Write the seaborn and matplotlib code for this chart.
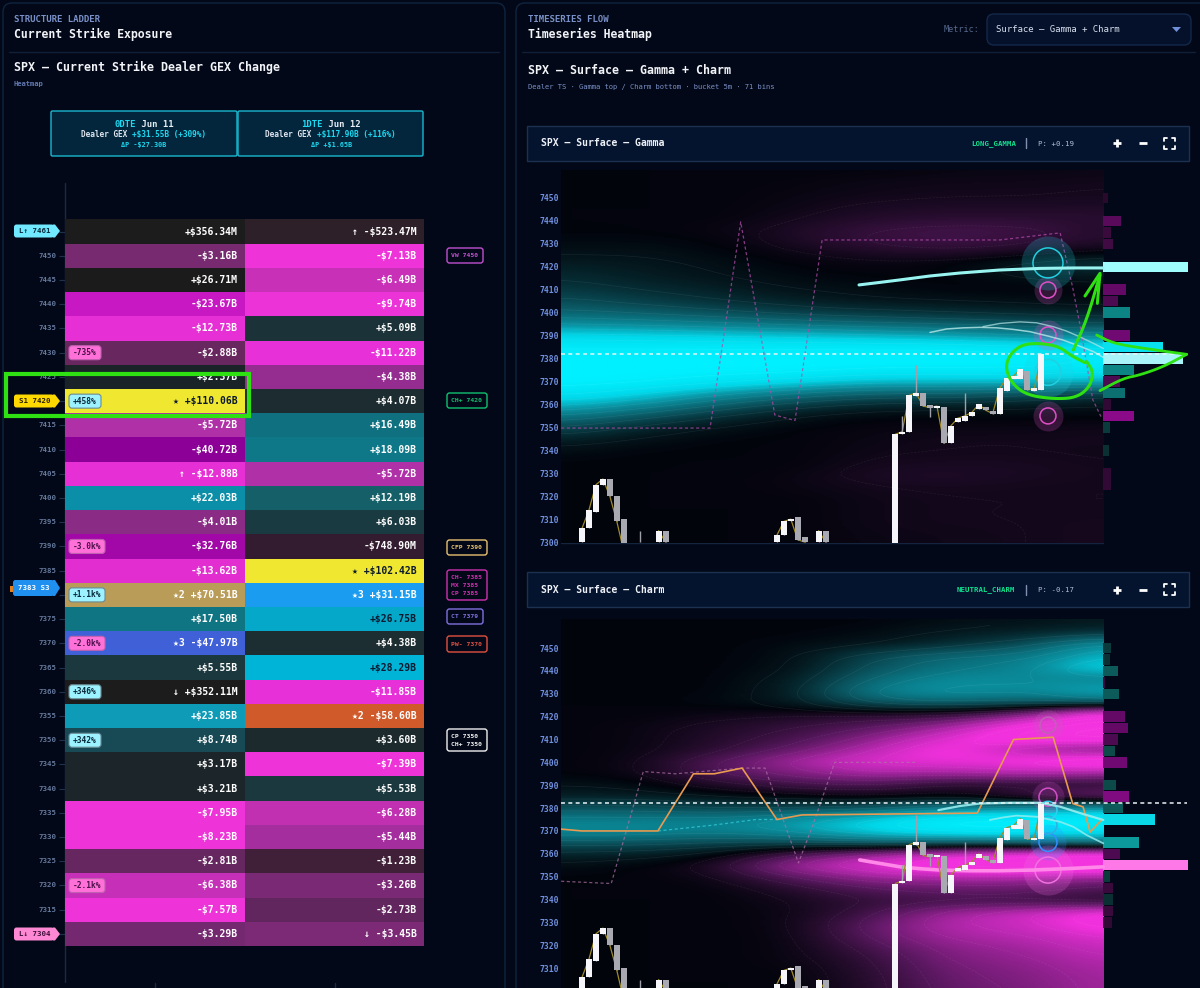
import numpy as np
import matplotlib
matplotlib.use("Agg")
import matplotlib.pyplot as plt
import seaborn as sns
from matplotlib.colors import ListedColormap, BoundaryNorm, LinearSegmentedColormap, Normalize
from matplotlib.patches import FancyBboxPatch, Polygon, Rectangle

# ---------- ladder data ($B) ----------
STRIKES = [7455, 7450, 7445, 7440, 7435, 7430, 7425, 7420, 7415, 7410, 7405, 7400, 7395, 7390, 7385,
           7380, 7375, 7370, 7365, 7360, 7355, 7350, 7345, 7340, 7335, 7330, 7325, 7320, 7315, 7310]
GEX_0DTE = [0.35634, -3.16, 0.02671, -23.67, -12.73, -2.88, 2.37, 110.06, -5.72, -40.72, -12.88, 22.03, -4.01, -32.76, -13.62,
            70.51, 17.50, -47.97, 5.55, 0.35211, 23.85, 8.74, 3.17, 3.21, -7.95, -8.23, -2.81, -6.38, -7.57, -3.29]
GEX_1DTE = [-0.52347, -7.13, -6.49, -9.74, 5.09, -11.22, -4.38, 4.07, 16.49, 18.09, -5.72, 12.19, 6.03, -0.7489, 102.42,
            31.15, 26.75, 4.38, 28.29, -11.85, -58.60, 3.60, -7.39, 5.53, -6.28, -5.44, -1.23, -3.26, -2.73, -3.45]
LABEL_0DTE = ["+$356.34M", "-$3.16B", "+$26.71M", "-$23.67B", "-$12.73B", "-$2.88B", "+$2.37B", "★ +$110.06B", "-$5.72B", "-$40.72B",
              "↑ -$12.88B", "+$22.03B", "-$4.01B", "-$32.76B", "-$13.62B", "★2 +$70.51B", "+$17.50B", "★3 -$47.97B", "+$5.55B",
              "↓ +$352.11M", "+$23.85B", "+$8.74B", "+$3.17B", "+$3.21B", "-$7.95B", "-$8.23B", "-$2.81B", "-$6.38B", "-$7.57B", "-$3.29B"]
LABEL_1DTE = ["↑ -$523.47M", "-$7.13B", "-$6.49B", "-$9.74B", "+$5.09B", "-$11.22B", "-$4.38B", "+$4.07B", "+$16.49B", "+$18.09B",
              "-$5.72B", "+$12.19B", "+$6.03B", "-$748.90M", "★ +$102.42B", "★3 +$31.15B", "+$26.75B", "+$4.38B", "+$28.29B",
              "-$11.85B", "★2 -$58.60B", "+$3.60B", "-$7.39B", "+$5.53B", "-$6.28B", "-$5.44B", "-$1.23B", "-$3.26B", "-$2.73B", "↓ -$3.45B"]
DARK_TEXT = [110.06, 102.42, 26.75, 28.29]
GEX_PALETTE = {
    -58.60: "#d05a2a", -47.97: "#4060d8", -40.72: "#8c0098", -32.76: "#a208a8", -23.67: "#c818c4", -13.62: "#e22ed0",
    -12.88: "#e62fd5", -12.73: "#e62fd5", -11.85: "#e830d8", -11.22: "#e830d8", -9.74: "#ec33d8", -8.23: "#ee33d8",
    -7.95: "#ee33d8", -7.57: "#ee33d8", -7.39: "#ee33d8", -7.13: "#ee33d8", -6.49: "#c830b8", -6.38: "#c630b8",
    -6.28: "#c030b0", -5.72: "#b030a8", -5.44: "#a52e9e", -4.38: "#952d90", -4.01: "#8a2c85", -3.45: "#7c2a76",
    -3.29: "#742870", -3.26: "#7a2a74", -3.16: "#772a70", -2.88: "#68275f", -2.81: "#66265f", -2.73: "#62265e",
    -1.23: "#3f2038", -0.7489: "#341c30", -0.52347: "#2e2028", 0.02671: "#1b1b1b", 0.35211: "#1c1c1c", 0.35634: "#1c1c1c",
    2.37: "#1a2428", 3.17: "#1c262a", 3.21: "#1c262a", 3.60: "#1c2a2e", 4.07: "#1c2c30", 4.38: "#1c2e32", 5.09: "#1b3238",
    5.53: "#1b383e", 5.55: "#1b383e", 6.03: "#1a3a42", 8.74: "#184a55", 12.19: "#156068", 16.49: "#0f7080", 17.50: "#0f7583",
    18.09: "#0f7888", 22.03: "#0b8fa8", 23.85: "#0d9bb8", 26.75: "#05a8c8", 28.29: "#00b4d8", 31.15: "#1a9cf0",
    70.51: "#b89c58", 102.42: "#f0e830", 110.06: "#f0e830"}
BADGES = [(7430, "-735%"), (7420, "+458%"), (7390, "-3.0k%"), (7380, "+1.1k%"), (7370, "-2.0k%"),
          (7360, "+346%"), (7350, "+342%"), (7320, "-2.1k%")]

# ---------- candles (bin index, open, close, wick low, wick high) ----------
C_BIN = [0, 1, 2, 3, 4, 5, 6, 11, 12, 28, 29, 30, 31, 32, 34, 35, 45, 46, 47, 48, 49, 50, 51, 52, 53, 54, 55, 56, 57, 58, 59, 60, 61, 62, 63, 64, 65, 66]
C_OPEN = [7300, 7306, 7313, 7325, 7327.5, 7320, 7310, 7300, 7305, 7300, 7303, 7309, 7311, 7302, 7300, 7305, 7290, 7347.2, 7348, 7363.7, 7365, 7359.7, 7358.5, 7359, 7343, 7352.5, 7353, 7355, 7358, 7359, 7357.3, 7356, 7366, 7371, 7371, 7374.6, 7366, 7366.3]
C_CLOSE = [7306, 7314, 7325, 7327.5, 7320, 7309, 7296, 7305, 7300, 7303, 7309, 7310, 7301, 7300, 7305, 7300, 7347, 7348.1, 7364, 7365, 7359.3, 7358.6, 7359.3, 7343, 7350.7, 7354, 7355, 7356.5, 7360, 7357.5, 7356, 7367, 7371.4, 7372.4, 7375.4, 7366.3, 7367, 7382]
C_WICK_HIGH = [7306, 7314, 7325, 7327.5, 7327.5, 7320, 7310, 7305, 7305, 7303, 7309, 7310, 7311, 7302, 7305, 7305, 7347, 7355, 7364, 7377, 7365, 7359.7, 7359.3, 7359, 7350.7, 7354, 7365, 7356.5, 7360, 7359, 7357.3, 7367, 7371.4, 7372.4, 7375.4, 7374.6, 7367, 7382]
C_WICK_LOW = [7300, 7306, 7313, 7325, 7320, 7309, 7296, 7300, 7300, 7300, 7303, 7309, 7301, 7300, 7300, 7300, 7290, 7347.2, 7348, 7363.7, 7359.3, 7354.6, 7358.5, 7343, 7343, 7352.5, 7353, 7355, 7358, 7357.5, 7356, 7356, 7366, 7371, 7371, 7366.3, 7366, 7366.3]
C_WICK_EXTRA_X, C_WICK_EXTRA_LOW, C_WICK_EXTRA_HIGH = [8.3], [7300], [7305]

# ---------- surfaces: rows = strikes, columns = time slices ----------
SURF_STRIKES = list(range(7460, 7295, -5))
GAMMA_SURFACE = [
    [0, 0, 0, 0, 0, -.02, -.02, -.03], [0, 0, 0, -.01, -.03, -.04, -.04, -.05], [0, 0, 0, -.02, -.04, -.05, -.05, -.06],
    [0, 0, 0, -.03, -.07, -.08, -.08, -.08], [0, 0, 0, -.05, -.10, -.12, -.12, -.12], [0, 0, -.02, -.08, -.16, -.20, -.18, -.10],
    [.02, .02, 0, -.08, -.16, -.20, -.16, -.10], [.05, .05, .02, -.03, -.08, -.10, -.06, 0], [.10, .08, .04, 0, -.02, 0, .10, .22],
    [.15, .10, .06, .02, 0, 0, .05, .08], [.20, .15, .10, .05, .03, 0, 0, 0], [.28, .22, .16, .10, .06, .05, .03, .02],
    [.38, .34, .28, .22, .18, .15, .12, .10], [.55, .52, .48, .42, .38, .34, .30, .25], [.80, .78, .75, .72, .68, .62, .55, .50],
    [.95, .95, .95, .95, .95, .95, .90, .85], [1, 1, 1, 1, 1, 1, 1, .95], [1, 1, 1, 1, .95, .95, .95, .90],
    [1, .98, .90, .80, .70, .70, .70, .65], [.90, .80, .60, .45, .35, .35, .30, .20], [.70, .55, .35, .20, .12, .10, .08, .05],
    [.45, .30, .15, .05, 0, 0, 0, 0], [.25, .12, .04, 0, -.02, -.03, -.03, -.05], [.10, .04, 0, 0, -.03, -.05, -.05, -.05],
    [.03, 0, 0, 0, -.04, -.05, -.05, -.04], [0, 0, 0, 0, -.06, -.07, -.07, -.05], [0, 0, 0, -.02, -.08, -.09, -.07, -.05],
    [0, 0, 0, -.02, -.05, -.06, -.05, -.05], [0, 0, 0, 0, -.04, -.05, -.05, -.05], [0, 0, 0, 0, -.04, -.05, -.05, -.05],
    [0, 0, 0, 0, -.04, -.05, -.05, -.06], [0, 0, 0, 0, -.03, -.04, -.05, -.06], [0, 0, 0, 0, -.03, -.04, -.05, -.06]]
CHARM_SURFACE = [
    [0, 0, 0, 0, 0, .03, .05, .08], [0, 0, 0, 0, .02, .08, .10, .15], [0, 0, 0, .02, .06, .14, .25, .60],
    [0, 0, 0, .03, .25, .40, .45, .70], [0, 0, 0, .04, .30, .45, .50, .85], [0, 0, 0, .08, .40, .55, .55, .50],
    [0, 0, 0, .10, .50, .60, .55, .70], [0, 0, .02, .08, .35, .40, .35, .40], [0, 0, -.03, -.06, -.10, -.10, -.35, -.90],
    [0, -.02, -.08, -.15, -.25, -.45, -.85, -1], [0, -.02, -.10, -.20, -.40, -.70, -.95, -1], [0, -.02, -.12, -.30, -.55, -.85, -.50, -.30],
    [0, -.03, -.25, -.50, -.70, -.75, -.80, -1], [0, -.03, -.25, -.40, -.55, -.50, -.60, -.50], [.05, .03, -.10, -.20, -.25, -.10, -.10, -.10],
    [.10, .10, .05, 0, -.05, 0, -.20, -.40], [.30, .30, .25, .25, .30, .50, .60, .60], [.50, .50, .50, .60, .80, 1, 1, 1],
    [.55, .55, .50, .60, .80, .95, .95, .85], [.30, .30, .25, .25, .35, .30, .35, .45], [.12, .10, .02, -.25, -.50, -.70, -.85, -.90],
    [.03, 0, -.08, -.50, -.70, -.95, -1, -1], [0, 0, -.03, -.25, -.45, -.50, -.50, -.40], [0, 0, 0, -.10, -.25, -.30, -.30, -.20],
    [0, 0, 0, -.05, -.15, -.20, -.20, -.10], [0, 0, 0, -.03, -.20, -.50, -.62, -.85], [0, 0, 0, -.03, -.30, -.55, -.62, -.85],
    [0, 0, 0, -.02, -.28, -.50, -.55, -.70], [0, 0, 0, -.02, -.20, -.42, -.48, -.62], [0, 0, 0, -.02, -.14, -.38, -.44, -.56],
    [0, 0, 0, 0, -.12, -.34, -.40, -.52], [0, 0, 0, 0, -.10, -.32, -.38, -.50], [0, 0, 0, 0, -.10, -.30, -.36, -.50]]

# ---------- side bars ----------
GAMMA_BAR_STRIKES = [7450, 7440, 7435, 7430, 7420, 7410, 7405, 7400, 7390, 7385, 7380, 7375, 7370, 7365, 7360, 7355, 7350, 7340, 7330, 7325]
GAMMA_BAR_VALUES = [5, 18, 8, 10, 85, 23, 15, 27, 27, 60, 80, 31, 17, 22, 8, 31, 7, 6, 8, 8]
GAMMA_BAR_COLORS = ["#2a0a2c", "#5a0a5a", "#3a0a3c", "#400a42", "#a0fdfe", "#640a66", "#4c0a50", "#0d8484", "#700a72", "#08e0f0", "#a8f4f8",
                    "#0d8484", "#4c0a50", "#0d7070", "#300a34", "#8a0a8a", "#0b3a3c", "#0b3034", "#300a34", "#300a34"]
CHARM_BAR_STRIKES = [7450, 7445, 7440, 7435, 7430, 7420, 7415, 7410, 7405, 7400, 7390, 7385, 7380, 7375, 7365, 7360, 7355, 7350, 7345, 7340, 7335, 7330]
CHARM_BAR_VALUES = [8, 7, 15, 2, 16, 22, 25, 15, 12, 24, 13, 26, 20, 52, 36, 17, 85, 7, 10, 10, 10, 9]
CHARM_BAR_COLORS = ["#0b3a3c", "#0b3034", "#0d5a5a", "#3a0a3c", "#0d5a5a", "#640a66", "#640a66", "#4c0a50", "#0d4a4a", "#700a72", "#0d4a4a",
                    "#800a80", "#0d5a5a", "#08d8e8", "#0d9a9a", "#4c0a50", "#ff78e8", "#0b3a3c", "#3a0a3c", "#0b3034", "#3a0a3c", "#300a34"]

# ---------- overlays (bin index, strike) ----------
G_DASH_X = [-3, 18.4, 22.8, 27.7, 30.6, 34.5, 45.7, 60, 68.7, 70.5, 71.6, 73.4, 74.6]
G_DASH_Y = [7349.7, 7349.7, 7439.6, 7355.4, 7353, 7431.7, 7431.7, 7431.7, 7434.8, 7411, 7393.8, 7362, 7354.5]
G_CURVE1_X = [39.8, 42.8, 45.7, 50, 54.3, 60, 65.8, 70.8, 74.86]
G_CURVE1_Y = [7412.1, 7413.2, 7414.3, 7416, 7417.3, 7418.6, 7419.3, 7419.5, 7419.5]
G_CURVE2_X = [50, 52.4, 54.8, 57.2, 59.6, 62, 64.4, 66.7, 69.1, 71.5, 73.5, 74.9]
G_CURVE2_Y = [7391.4, 7392.9, 7393.4, 7393.6, 7393.4, 7392.7, 7391.7, 7390, 7388.1, 7385.4, 7383, 7380.5]
G_CURVE3_X = [57.6, 60, 62.9, 65.3, 67.7, 69.6, 71.5, 73.5, 74.9]
G_CURVE3_Y = [7393.9, 7395.3, 7396, 7395.6, 7393.9, 7392, 7389.5, 7386.6, 7384.4]
G_RINGS = [(7355, 16, 30, "#e050c8"), (7374, 26, 50, "#20d0e0"), (7390.3, 16, 30, "#e050c8"), (7409.9, 16, 28, "#e050c8"), (7421.7, 30, 54, "#20d0e0")]
C_DASH_X = [-3, 4.2, 8.8, 13.4, 23, 26.3, 31.1, 33.1, 36.3, 48]
C_DASH_Y = [7348, 7347, 7396, 7395, 7397.5, 7397.5, 7356, 7372, 7400, 7400]
C_ORANGE_X = [-3, 0, 10.9, 16, 19, 23, 28, 31.6, 56.8, 62, 67.7, 70.5, 72, 73, 74.7]
C_ORANGE_Y = [7370.8, 7370, 7370, 7395, 7395, 7397.5, 7375, 7377, 7377.8, 7410, 7411, 7382, 7380.5, 7369.5, 7375]
C_CYAN_DASH_X, C_CYAN_DASH_Y = [10.9, 19, 25, 28], [7370, 7372.6, 7375, 7375]
C_PINK_X = [39.9, 42.8, 45.7, 48.5, 51.4, 55.7, 60, 64.8, 69.6, 74.9]
C_PINK_Y = [7357.3, 7355.8, 7354.3, 7353.5, 7352.9, 7352.6, 7352.6, 7352.9, 7353.5, 7354.3]
C_CURVE1_X = [51.2, 54.3, 57.2, 61.5, 65.8, 68.7, 72, 74.9]
C_CURVE1_Y = [7379.1, 7380.9, 7382, 7382.3, 7382.3, 7380.6, 7377.4, 7374.8]
C_CURVE2_X = [58.6, 60.5, 62.4, 65.3, 68.7, 70.6, 72.5, 74.9]
C_CURVE2_Y = [7374.8, 7375.9, 7376.7, 7376.2, 7374, 7371.8, 7368.2, 7364.6]
C_RINGS = [(7352.9, 26, 50, "#f070e0"), (7365, 18, 36, "#3090ff"), (7372.6, 18, 0, "#30b0e0"), (7379, 18, 0, "#30d0f0"), (7384.8, 18, 32, "#d050c8"), (7416.3, 16, 30, "#c060b8")]
SPOT = 7382.2
YTICKS = list(range(7300, 7451, 10))

# ---------- setup ----------
sns.set_theme(style="dark", rc={"figure.facecolor": "#020817", "axes.facecolor": "none", "axes.grid": False})
plt.rcParams["font.family"] = ["DejaVu Sans Mono", "DejaVu Sans"]
W, H = 1200, 988
fig = plt.figure(figsize=(12, 9.88), dpi=100, facecolor="#020817")
def px_axes(x0, y0, x1, y1, z):
    a = fig.add_axes([x0 / W, 1 - y1 / H, (x1 - x0) / W, (y1 - y0) / H], zorder=z)
    a.patch.set_alpha(0)
    return a
bg = px_axes(0, 0, W, H, 0); bg.set_xlim(0, W); bg.set_ylim(H, 0); bg.axis("off")
fg = px_axes(0, 0, W, H, 10); fg.set_xlim(0, W); fg.set_ylim(H, 0); fg.axis("off")
FONT = ["DejaVu Sans Mono", "DejaVu Sans"]
def T(ax, x, y, s, size, color="white", ha="left", weight="normal", **kw):
    return ax.text(x, y, s, fontsize=size, color=color, ha=ha, va="center", fontweight=weight, family=FONT, **kw)
def seq(y, xc, parts, size, weight="normal"):
    cw = size * 100 / 72 * 0.602
    x = xc - sum(len(p[0]) for p in parts) * cw / 2
    for s, c in parts:
        T(fg, x, y, s, size, c, weight=weight)
        x += len(s) * cw
def box(ax, x0, y0, x1, y1, fc, ec, lw=1, r=3, z=2):
    ax.add_patch(FancyBboxPatch((x0, y0), x1 - x0, y1 - y0, boxstyle=f"round,pad=0,rounding_size={r}", fc=fc, ec=ec, lw=lw, zorder=z))

# chrome
box(bg, 3, 3, 505, 1010, "#020817", "#10243f", r=9)
box(bg, 516, 3, 1215, 1010, "#020817", "#10243f", r=9)
bg.plot([9, 499], [52, 52], color="#0f2038", lw=1)
bg.plot([522, 1195], [52, 52], color="#0f2038", lw=1)
bg.plot([64.5, 64.5], [183, 982], color="#1a2a45", lw=1)
T(fg, 14, 20, "STRUCTURE LADDER", 6.5, "#7a90c8", weight="bold")
T(fg, 14, 34, "Current Strike Exposure", 8.3, "#f2f4f8", weight="bold")
T(fg, 14, 67, "SPX — Current Strike Dealer GEX Change", 8.4, "#f2f4f8", weight="bold")
T(fg, 14, 84, "Heatmap", 5.1, "#6078b0", weight="bold")
T(fg, 528, 20, "TIMESERIES FLOW", 6.5, "#7a90c8", weight="bold")
T(fg, 528, 34, "Timeseries Heatmap", 8.3, "#f2f4f8", weight="bold")
T(fg, 944, 29, "Metric:", 6.1, "#55698c")
box(bg, 987, 14, 1191, 45, "#05112a", "#14284a", r=7)
T(fg, 996, 29, "Surface — Gamma + Charm", 6.5, "#d8e0f0")
fg.add_patch(Polygon([(1172, 27), (1181, 27), (1176.5, 32)], fc="#6f90d8", ec="none"))
T(fg, 528, 71, "SPX — Surface — Gamma + Charm", 8.4, "#f2f4f8", weight="bold")
T(fg, 528, 87, "Dealer TS · Gamma top / Charm bottom · bucket 5m · 71 bins", 5.15, "#7a90c8")

# cards
box(bg, 51, 111, 237, 156, "#03263c", "#1ab8d0", r=1.5)
box(bg, 238, 111, 423, 156, "#03263c", "#1ab8d0", r=1.5)
for xc, name, day, gex, pct, dp in [(144, "0DTE", " Jun 11", "+$31.55B", "(+309%)", "ΔP -$27.30B"),
                                    (331, "1DTE", " Jun 12", "+$117.90B", "(+116%)", "ΔP +$1.65B")]:
    seq(124.5, xc, [(name, "#1cd8f0"), (day, "#e8eef4")], 6.4, "bold")
    seq(134.5, xc, [("Dealer GEX ", "#dde4ee"), (gex + " " + pct, "#1cd8f0")], 5.6, "bold")
    seq(144.5, xc, [(dp, "#1cd8f0")], 4.9, "bold")

# ---------- ladder heatmap ----------
matrix = np.column_stack([GEX_0DTE, GEX_1DTE])
keys = sorted(GEX_PALETTE)
edges = [keys[0] - 1] + [(a + b) / 2 for a, b in zip(keys[:-1], keys[1:])] + [keys[-1] + 1]
lad = px_axes(65, 219.5, 424, 946, 2)
labels = [str(s) if s not in (7455, 7420, 7380, 7310) else "" for s in STRIKES]
sns.heatmap(matrix, ax=lad, cmap=ListedColormap([GEX_PALETTE[k] for k in keys]), norm=BoundaryNorm(edges, len(keys)),
            cbar=False, xticklabels=False, yticklabels=labels, linewidths=0, square=False)
lad.tick_params(axis="y", length=4, width=.8, color="#1f304c", labelcolor="#64789c", labelsize=5.3, pad=2, left=True, labelrotation=0)
for lb in lad.get_yticklabels():
    lb.set_family(FONT); lb.set_fontweight("bold")
for c, (vals, labs) in enumerate([(GEX_0DTE, LABEL_0DTE), (GEX_1DTE, LABEL_1DTE)]):
    for r, (v, s) in enumerate(zip(vals, labs)):
        T(lad, c + .96, r + .5, s, 7, "#0c1a30" if v in DARK_TEXT else "white", ha="right", weight="bold")
# badges
for strike, txt in BADGES:
    r = STRIKES.index(strike)
    yc = 219.5 + (r + .5) * 24.22
    pos = txt.startswith("+")
    w = 32 if "k" not in txt else 36
    box(fg, 69, yc - 7, 69 + w, yc + 7, "#9cf2ff" if pos else "#ff70d8", "#6a8a94" if pos else "#c060b0", lw=.8, r=3, z=5)
    T(fg, 73, yc, txt, 5.7, "#0a2a3a" if pos else "#4a1048", weight="bold", zorder=6)
# left tags
def tag(yc, x0, x1, h, fc, txt, tc):
    fg.add_patch(FancyBboxPatch((x0, yc - h), x1 - x0 - 6, 2 * h, boxstyle="round,pad=0,rounding_size=2.5", fc=fc, ec="none", zorder=5))
    fg.add_patch(Polygon([(x1 - 7, yc - h), (x1 - 5, yc - h), (x1, yc), (x1 - 5, yc + h), (x1 - 7, yc + h)], closed=True, fc=fc, ec="none", zorder=5))
    T(fg, x0 + 5, yc, txt, 5.3, tc, weight="bold", zorder=6)
tag(231, 14, 60, 6.5, "#70e8ff", "L↑ 7461", "#0a2a3a")
tag(401, 14, 60, 6.5, "#ffd800", "S1 7420", "#2a2000")
fg.add_patch(Rectangle((10, 586), 3, 6, fc="#e08020", ec="none", zorder=4))
tag(588, 13, 60, 8, "#2090f0", "7383 S3", "white")
tag(934, 14, 60, 6.5, "#ff88d4", "L↓ 7304", "#40103a")
# right tags
for x1, y0, y1, ec, lines in [(483, 248, 263, "#c050d0", ["VW 7450"]), (487, 393, 408, "#10c070", ["CH+ 7420"]),
                              (487, 540, 555, "#e8c070", ["CFP 7390"]), (487, 570, 600, "#d030b0", ["CH- 7385", "MX 7385", "CP 7385"]),
                              (483, 609, 624, "#8070e0", ["CT 7379"]), (487, 636, 652, "#e05040", ["PW- 7370"]),
                              (487, 729, 751, "#f0f0f0", ["CP 7350", "CH+ 7350"])]:
    box(fg, 447, y0, x1, y1, "#020817", ec, lw=1, r=2.5, z=4)
    n = len(lines); step = 8
    for k, ln in enumerate(lines):
        T(fg, 451, (y0 + y1) / 2 + (k - (n - 1) / 2) * step, ln, 4.6, ec, weight="bold", zorder=5)
for xb in (154.5, 334.5):
    bg.plot([xb, xb], [983, 988], color="#1a2a45", lw=1)

# ---------- surfaces ----------
HEAT = LinearSegmentedColormap.from_list("heat", [
    (0.0, "#f535e0"), (0.12, "#f030dc"), (0.22, "#b828b0"), (0.36, "#5a1860"), (0.46, "#1c0a24"), (0.5, "#02040c"),
    (0.54, "#04181e"), (0.66, "#0a5560"), (0.8, "#0a95a5"), (0.9, "#00d8ea"), (1.0, "#00f0ff")])
HEAT_RIGHT = 74.86
XMIN, XMAX = -3.02, 87.07
COL_X = np.linspace(-3.02, HEAT_RIGHT, 8)

def soften(Z):
    """Resample the read surface on a fine raster and blur it, so image and contours render smoothly."""
    x_f = np.linspace(COL_X[0], COL_X[-1], 160)
    y_f = np.linspace(SURF_STRIKES[-1], SURF_STRIKES[0], 330)
    y_src = np.array(SURF_STRIKES[::-1], float)
    Zr = np.array(Z, float)[::-1]
    A = np.array([np.interp(x_f, COL_X, row) for row in Zr])
    B = np.array([np.interp(y_f, y_src, A[:, j]) for j in range(A.shape[1])]).T
    kx, ky = np.ones(21) / 21, np.ones(9) / 9
    for _ in range(2):
        P = np.pad(B, ((0, 0), (10, 10)), mode="edge")
        B = np.array([np.convolve(r, kx, mode="valid") for r in P])
        P = np.pad(B, ((4, 4), (0, 0)), mode="edge")
        B = np.array([np.convolve(c, ky, mode="valid") for c in P.T]).T
    return x_f, y_f, B

def draw_candles(ax):
    x = np.array(C_BIN); o = np.array(C_OPEN); c = np.array(C_CLOSE)
    splits = np.where(np.diff(x) > 1)[0] + 1
    for xs, ys in zip(np.split(x, splits), np.split(c, splits)):
        sns.lineplot(x=xs, y=ys, ax=ax, color="#a08a28", linewidth=.9, sort=False, estimator=None, zorder=6)
    up = c >= o
    col = np.where(up, "#f6f6fa", "#a9a9b2")
    ax.vlines(x, C_WICK_LOW, C_WICK_HIGH, colors="#a0a0aa", lw=1, zorder=7)
    ax.vlines(C_WICK_EXTRA_X, C_WICK_EXTRA_LOW, C_WICK_EXTRA_HIGH, colors="#a0a0aa", lw=1, zorder=7)
    ax.bar(x, np.abs(c - o), bottom=np.minimum(o, c), width=.86, color=col, linewidth=0, zorder=8)
    sns.lineplot(x=[XMIN, XMAX - .2], y=[SPOT, SPOT], ax=ax, color="#e8f4f6", linewidth=1.1, linestyle=(0, (2.6, 2.2)), zorder=9, estimator=None)

def draw_panel(ax, surface, ylim, bar_s, bar_v, bar_c, ticks):
    xf, yf, Z = soften(surface)
    im = ax.imshow(Z, cmap=HEAT, norm=Normalize(-1, 1), aspect="auto", interpolation="bilinear", origin="lower",
                   extent=[xf[0], xf[-1], yf[0] - 2.5, yf[-1] + 2.5], zorder=1)
    ax.contour(xf, yf, Z, levels=np.r_[np.arange(-.95, 0, .1), np.arange(.05, 1, .1)], colors="white", linewidths=.5, alpha=.07, zorder=2)
    ax.barh(bar_s, np.array(bar_v) / 6.96, left=HEAT_RIGHT, height=4.6, color=bar_c, linewidth=0, zorder=3)
    ax.set_xlim(XMIN, XMAX); ax.set_ylim(*ylim)
    ax.set_yticks(ticks); ax.set_xticks([])
    ax.tick_params(axis="y", length=0, labelcolor="#7090e0", labelsize=5.8, pad=1.5)
    for lb in ax.get_yticklabels():
        lb.set_family(FONT); lb.set_fontweight("bold")
    for s in ax.spines.values():
        s.set_visible(False)
    ax.grid(False)

def rings(ax, data, x=66.95):
    for y, d, halo, col in data:
        if halo:
            ax.scatter([x], [y], s=(halo * .72) ** 2, color=col, alpha=.22, linewidths=0, zorder=4.5)
        ax.scatter([x], [y], s=(d * .72) ** 2, facecolors="none", edgecolors=col, linewidths=1.1, zorder=5)

def line(ax, xs, ys, color, lw, ls="-", alpha=1, z=5.5):
    sns.lineplot(x=xs, y=ys, ax=ax, color=color, linewidth=lw, linestyle=ls, alpha=alpha, sort=False, estimator=None, zorder=z)

# Gamma
ga = px_axes(561, 170, 1188, 543, 3)
draw_panel(ga, GAMMA_SURFACE, (7299.6, 7462.2), GAMMA_BAR_STRIKES, GAMMA_BAR_VALUES, GAMMA_BAR_COLORS, YTICKS)
rings(ga, G_RINGS)
line(ga, G_DASH_X, G_DASH_Y, "#b04aa8", .9, (0, (2.5, 2)), .75, 3.5)
line(ga, G_CURVE1_X, G_CURVE1_Y, "#98f4f0", 2.2)
line(ga, G_CURVE2_X, G_CURVE2_Y, "#b8e8e8", 1.1, alpha=.8)
line(ga, G_CURVE3_X, G_CURVE3_Y, "#b8e8e8", 1.0, alpha=.7)
draw_candles(ga)
bg.plot([561, 1103], [543, 543], color="#14243e", lw=1)

# Charm
ch = px_axes(561, 614, 1188, 988, 3)
draw_panel(ch, CHARM_SURFACE, (7301.3, 7464.9), CHARM_BAR_STRIKES, CHARM_BAR_VALUES, CHARM_BAR_COLORS, YTICKS[1:])
rings(ch, C_RINGS)
line(ch, C_DASH_X, C_DASH_Y, "#b070a8", .9, (0, (2.5, 2)), .7, 3.5)
line(ch, C_CYAN_DASH_X, C_CYAN_DASH_Y, "#30c8d8", .9, (0, (2.5, 2)), .8, 3.5)
line(ch, C_ORANGE_X, C_ORANGE_Y, "#e89a50", 1.2)
line(ch, C_PINK_X, C_PINK_Y, "#ff88e8", 2.6)
line(ch, C_CURVE1_X, C_CURVE1_Y, "#98eef0", 1.6, alpha=.9)
line(ch, C_CURVE2_X, C_CURVE2_Y, "#98eef0", 1.3, alpha=.8)
draw_candles(ch)

# panel headers
for y0, y1, ttl, tagtxt, tagx, p in [(126, 161, "SPX — Surface — Gamma", "LONG_GAMMA", 971, "P: +0.19"),
                                     (572, 607, "SPX — Surface — Charm", "NEUTRAL_CHARM", 957, "P: -0.17")]:
    ym = (y0 + y1) / 2
    fg.add_patch(Rectangle((526.5, y0), 662.5, y1 - y0, fc="#05142e", ec="#1c3050", lw=1, zorder=3))
    T(fg, 541, ym, ttl, 7, "#eef2f8", weight="bold", zorder=4)
    T(fg, tagx, ym, tagtxt, 5.3, "#10e090", weight="bold", zorder=4)
    fg.plot([1026, 1026], [ym - 5, ym + 5], color="#8090b0", lw=1, zorder=4)
    T(fg, 1038, ym, p, 5.3, "#b0bcd4", zorder=4)
    fg.plot([1113, 1121], [ym, ym], color="white", lw=2, zorder=4, solid_capstyle="butt")
    fg.plot([1117, 1117], [ym - 4, ym + 4], color="white", lw=2, zorder=4, solid_capstyle="butt")
    fg.plot([1139, 1147], [ym, ym], color="white", lw=2, zorder=4, solid_capstyle="butt")
    for sx, sy in [(-1, -1), (1, -1), (-1, 1), (1, 1)]:
        cx, cy = 1169 + sx * 5.5, ym + sy * 5.5
        fg.plot([cx - sx * 3, cx, cx], [cy, cy, cy - sy * 3], color="white", lw=1.3, zorder=4)

# hand-drawn green marks (ink annotation, not data)
GREEN = "#2fe012"
fg.add_patch(Rectangle((6, 374), 243, 42, fc="none", ec=GREEN, lw=3, zorder=8))
def ink(pts, rounds=3):
    p = np.array(pts, float)
    for _ in range(rounds):
        a, b = p[:-1], p[1:]
        mid = np.empty((2 * len(a), 2))
        mid[0::2] = .75 * a + .25 * b
        mid[1::2] = .25 * a + .75 * b
        p = np.vstack([p[:1], mid, p[-1:]])
    return 880 + p[:, 0] / 3, 220 + p[:, 1] / 3
for pts, lw, rnd in [([(615, 428), (575, 408), (530, 375), (440, 368), (395, 395), (375, 440), (395, 490), (440, 525), (520, 537), (590, 533), (630, 500), (640, 455), (620, 425)], 2.2, 3),
                     ([(580, 390), (620, 300), (660, 165)], 2.2, 2), ([(615, 228), (660, 160), (652, 250)], 2.2, 0),
                     ([(650, 345), (700, 370), (790, 385), (920, 403)], 2, 2), ([(920, 403), (850, 440), (780, 465), (730, 475), (660, 512)], 2, 2)]:
    xs, ys = ink(pts, rnd)
    fg.plot(xs, ys, color=GREEN, lw=lw, solid_joinstyle="round", solid_capstyle="round", zorder=9)

fig.savefig("out.png", dpi=100, facecolor=fig.get_facecolor())
